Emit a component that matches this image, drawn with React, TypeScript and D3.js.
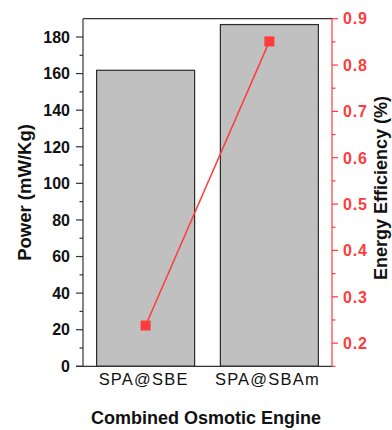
import * as d3 from 'd3';

const categories = ['SPA@SBE', 'SPA@SBAm'];
const powerValues = [161.8, 186.8];
const efficiencyValues = [0.238, 0.851];
const powerTicks = [0, 20, 40, 60, 80, 100, 120, 140, 160, 180];
const efficiencyTicks = [0.2, 0.3, 0.4, 0.5, 0.6, 0.7, 0.8, 0.9];

const W = 392;
const H = 430;
const margin = { left: 83, right: 60, top: 18.7, bottom: 63.7 };
const RED = '#ff3b3b';
const FONT = '"Liberation Sans", Arial, sans-serif';

export default function App() {
  const x0 = margin.left;
  const x1 = W - margin.right;
  const y0 = H - margin.bottom;
  const y1 = margin.top;

  const x = d3.scaleBand<string>().domain(categories).range([x0, x1]).paddingInner(0.208).paddingOuter(0.11);
  const yL = d3.scaleLinear().domain([0, 190]).range([y0, y1]);
  const yR = d3.scaleLinear().domain([0.15, 0.9]).range([y0, y1]);

  const minorL = d3.range(10, 190, 20);
  const minorR = d3.range(0.15, 0.9, 0.1);

  const line = d3
    .line<number>()
    .x((_, i) => (x(categories[i]) ?? 0) + x.bandwidth() / 2)
    .y((d) => yR(d));

  return (
    <svg width={W} height={H} style={{ position: 'absolute', left: 0, top: 0, background: '#fff' }}>
      {/* bars */}
      {categories.map((c, i) => (
        <rect
          key={c}
          x={x(c)}
          y={yL(powerValues[i])}
          width={x.bandwidth()}
          height={y0 - yL(powerValues[i])}
          fill="#c0c0c0"
          stroke="#2b2b2b"
          strokeWidth={1.2}
        />
      ))}

      {/* frame */}
      <line x1={x0} x2={x1} y1={y1} y2={y1} stroke="#333" strokeWidth={1.2} />
      <line x1={x0 - 7} x2={x1} y1={y0} y2={y0} stroke="#333" strokeWidth={1.2} />
      <line x1={x0} x2={x0} y1={y1} y2={y0} stroke="#333" strokeWidth={1.2} />
      <line x1={x1} x2={x1} y1={y1} y2={y0} stroke={RED} strokeWidth={1.2} />

      {/* left axis */}
      {powerTicks.map((t) => (
        <g key={t}>
          <line x1={x0 - 7} x2={x0} y1={yL(t)} y2={yL(t)} stroke="#333" strokeWidth={1.2} />
          <text
            x={x0 - 13}
            y={yL(t)}
            dy="0.36em"
            textAnchor="end"
            fontFamily={FONT}
            fontWeight="bold"
            fontSize={16}
            fill="#111"
          >
            {t}
          </text>
        </g>
      ))}
      {minorL.map((t) => (
        <line key={t} x1={x0 - 3.5} x2={x0} y1={yL(t)} y2={yL(t)} stroke="#333" strokeWidth={1.2} />
      ))}

      {/* right axis */}
      {efficiencyTicks.map((t) => (
        <g key={t}>
          <line x1={x1} x2={x1 + 6} y1={yR(t)} y2={yR(t)} stroke={RED} strokeWidth={1.2} />
          <text
            x={x1 + 11}
            y={yR(t)}
            dy="0.36em"
            fontFamily={FONT}
            fontWeight="bold"
            fontSize={16}
            letterSpacing={0.8}
            fill={RED}
          >
            {t.toFixed(1)}
          </text>
        </g>
      ))}
      {minorR.map((t) => (
        <line key={t} x1={x1} x2={x1 + 3.5} y1={yR(t)} y2={yR(t)} stroke={RED} strokeWidth={1.2} />
      ))}

      {/* category labels */}
      {categories.map((c) => (
        <text
          key={c}
          x={(x(c) ?? 0) + x.bandwidth() / 2 - 2}
          y={385}
          textAnchor="middle"
          fontFamily={FONT}
          fontSize={16.5}
          letterSpacing={1.2}
          fill="#111"
        >
          {c}
        </text>
      ))}

      {/* efficiency line */}
      <path d={line(efficiencyValues) ?? ''} fill="none" stroke={RED} strokeWidth={1.5} />
      {efficiencyValues.map((v, i) => (
        <rect
          key={i}
          x={(x(categories[i]) ?? 0) + x.bandwidth() / 2 - 5}
          y={yR(v) - 5}
          width={10}
          height={10}
          fill={RED}
        />
      ))}

      {/* titles */}
      <text
        x={206}
        y={424}
        textAnchor="middle"
        fontFamily={FONT}
        fontWeight="bold"
        fontSize={18}
        fill="#111"
      >
        Combined Osmotic Engine
      </text>
      <text
        transform="translate(31,192.5) rotate(-90)"
        textAnchor="middle"
        fontFamily={FONT}
        fontWeight="bold"
        fontSize={18.5}
        fill="#111"
      >
        Power (mW/Kg)
      </text>
      <text
        transform="translate(387,188) rotate(-90)"
        textAnchor="middle"
        fontFamily={FONT}
        fontWeight="bold"
        fontSize={18}
        fill="#111"
      >
        Energy Efficiency (%)
      </text>
    </svg>
  );
}
